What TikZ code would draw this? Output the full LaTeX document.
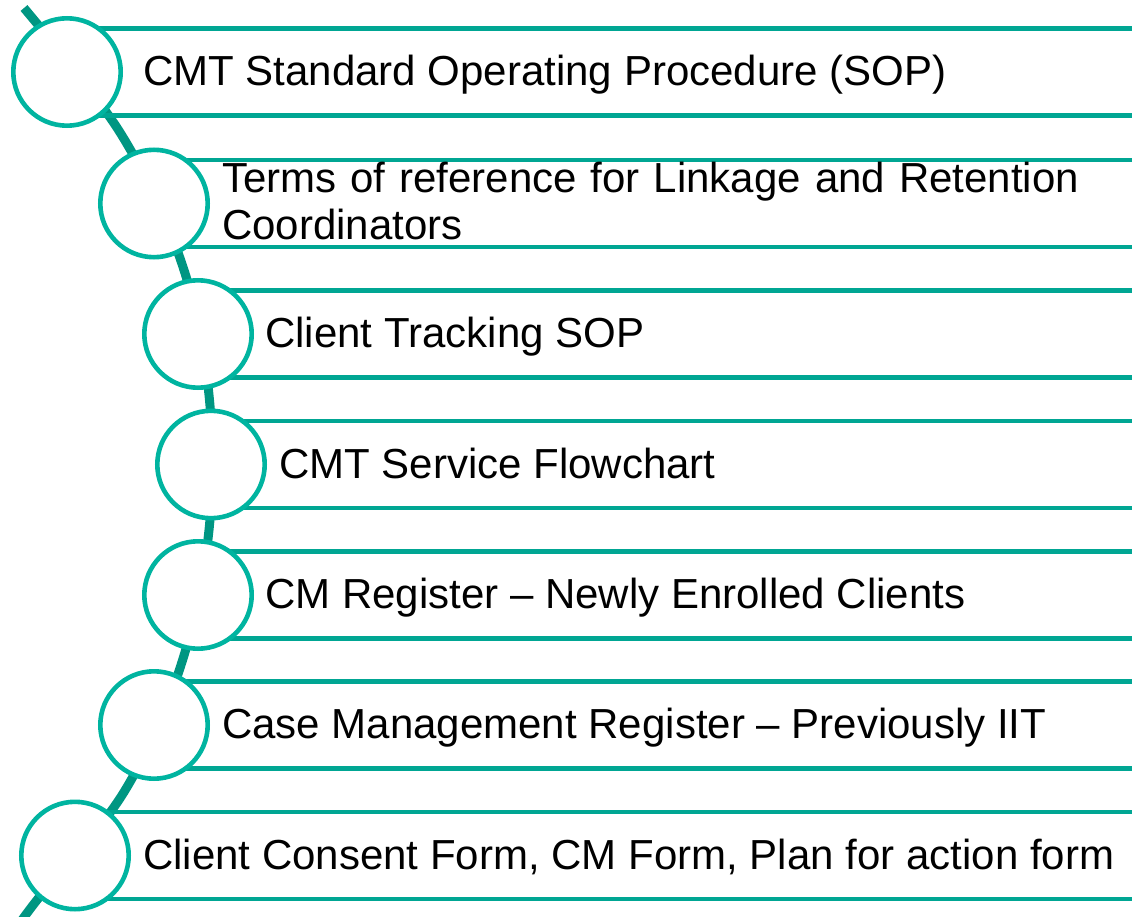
\documentclass[tikz,border=0pt]{standalone}
\usepackage{fontspec}
\setmainfont{Liberation Sans}
\definecolor{ringteal}{RGB}{0,180,160}
\definecolor{barteal}{RGB}{0,166,147}
\definecolor{spineteal}{RGB}{0,150,130}

\begin{document}
\begin{tikzpicture}[x=1pt,y=-1pt,
  ring/.style={circle, draw=ringteal, line width=4.6pt, fill=white,
    minimum size=107.4pt, inner sep=0pt},
  bar/.style={draw=barteal, line width=4.6pt},
  spine/.style={draw=spineteal, line width=9pt},
  itemtext/.style={anchor=base west, inner sep=0pt,
    font=\fontsize{42}{47}\selectfont, text=black}]
\useasboundingbox (0,0) rectangle (1132,917);

% curved spine running behind the circles
\begin{scope}
  \clip (0,0) rectangle (1132,917);
  \draw[spine] plot[smooth, tension=0.6] coordinates
    {(24,8) (121,134) (182,264) (209,395) (209,530) (181,665) (124,792) (37,900) (12,935)};
\end{scope}

% band lines for every item, then the circle on top
\foreach \i/\cx/\cy in {1/67/72, 2/154/203.5, 3/198/334, 4/211/464.5,
                        5/198/595, 6/154/725, 7/75/855.5} {
  \coordinate (o\i) at (\cx,\cy);
  \coordinate (top\i) at (1132,\cy-43.5);
  \coordinate (bot\i) at (1132,\cy+43.5);
  \draw[bar] (o\i |- top\i) -- (top\i);
  \draw[bar] (o\i |- bot\i) -- (bot\i);
  \node[ring] (c\i) at (o\i) {};
}

% item texts
\node[itemtext] (t1) at (143,85.5) {CMT Standard Operating Procedure (SOP)};
\node[itemtext, text width=900pt, align=left] (t2) at (222,193)
  {Terms of reference for Linkage and Retention\\Coordinators};
\node[itemtext] (t3) at (265,347.5) {Client Tracking SOP};
\node[itemtext] (t4) at (279,478) {CMT Service Flowchart};
\node[itemtext] (t5) at (265,608.5) {CM Register – Newly Enrolled Clients};
\node[itemtext] (t6) at (222,738.5) {Case Management Register – Previously IIT};
\node[itemtext] (t7) at (143,869) {Client Consent Form, CM Form, Plan for action form};
\end{tikzpicture}
\end{document}
